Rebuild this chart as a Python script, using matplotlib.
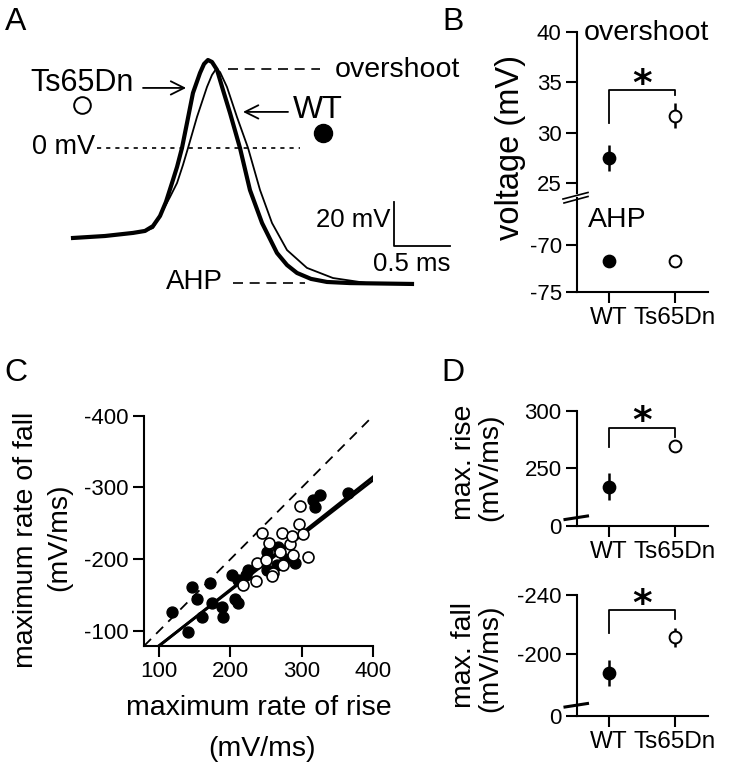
import matplotlib
matplotlib.use('Agg')
import matplotlib.pyplot as plt
from matplotlib.lines import Line2D
import numpy as np

plt.rcParams['font.family'] = ['Liberation Sans', 'DejaVu Sans']
plt.rcParams['axes.unicode_minus'] = False

W, H = 739, 764
fig = plt.figure(figsize=(W / 100, H / 100), dpi=100)

# ---------------- data ----------------
# Panel A: example action potentials (time in ms, voltage in mV)
ts_t = [0.000, 0.286, 0.536, 0.643, 0.714, 0.777, 0.830, 0.884, 0.929, 0.973, 1.018, 1.071, 1.134,
        1.170, 1.205, 1.241, 1.286, 1.339, 1.402, 1.491, 1.580, 1.688, 1.821, 1.911, 2.000, 2.125,
        2.268, 2.473, 3.027]
ts_v = [-40.9, -40.0, -38.6, -37.7, -35.5, -30.9, -24.5, -15.9, -8.6, 0.0, 11.4, 25.0, 34.1,
        38.2, 40.0, 39.1, 35.5, 26.4, 15.9, 0.0, -19.1, -34.1, -47.7, -53.2, -56.8, -59.5,
        -60.9, -61.4, -61.8]
wt_t = [0.000, 0.286, 0.536, 0.643, 0.714, 0.804, 0.866, 0.929, 0.982, 1.027, 1.107, 1.196, 1.241,
        1.277, 1.313, 1.375, 1.464, 1.563, 1.670, 1.777, 1.911, 2.089, 2.321, 2.625, 3.027]
wt_v = [-40.9, -40.0, -38.6, -37.7, -36.4, -28.2, -22.3, -15.9, -7.7, 0.0, 14.1, 27.7, 33.2,
        35.9, 34.5, 27.7, 14.1, 0.0, -19.1, -34.1, -46.4, -54.5, -59.1, -61.4, -61.8]

groups = ['WT', 'Ts65Dn']
overshoot_mean = [27.5, 31.7]
overshoot_sem = [1.3, 1.2]
ahp_mean = [-71.7, -71.7]
ahp_sem = [0.2, 0.2]
rise_mean = [234.0, 269.4]
rise_sem = [11.5, 4.0]
fall_mean = [-187.0, -211.3]
fall_sem = [9.0, 6.5]

# Panel C scatter: max rate of rise vs max rate of fall (mV/ms)
wt_rise = [118, 140, 146, 153, 171, 160, 174, 188, 190, 202, 210, 206, 210, 225, 222,
           251, 251, 267, 276, 290, 265, 316, 325, 318, 365]
wt_fall = [-127, -98, -161, -144, -167, -119, -139, -134, -120, -178, -171, -144, -139, -185, -178,
           -210, -185, -217, -200, -194, -192, -282, -289, -273, -292]
ts_rise = [244, 254, 272, 298, 296, 301, 309, 283, 269, 288, 274, 237, 260, 236, 218, 258, 250, 286]
ts_fall = [-237, -222, -236, -274, -249, -235, -203, -221, -210, -206, -192, -194, -181, -169, -164,
           -176, -199, -232]
fit_slope = [-0.787, -0.770]
fit_intercept = [-0.3, -2.5]

# ---------------- helpers ----------------
def px_axes(l, t, r, b):
    return fig.add_axes([l / W, 1 - b / H, (r - l) / W, (b - t) / H])


def ftext(x, y, s, **kw):
    fig.text(x / W, 1 - y / H, s, **kw)


def fline(xs, ys, **kw):
    fig.add_artist(Line2D([x / W for x in xs], [1 - y / H for y in ys], color='black', **kw))


def style(ax, left=True, bottom=True):
    for s in ['top', 'right']:
        ax.spines[s].set_visible(False)
    ax.spines['left'].set_visible(left)
    ax.spines['bottom'].set_visible(bottom)
    for s in ['left', 'bottom']:
        ax.spines[s].set_linewidth(1.5)
    ax.tick_params(direction='out', length=8, width=1.5, labelsize=16, pad=3)
    if not bottom:
        ax.set_xticks([])
    ax.patch.set_alpha(0)


def point(ax, x, y, e, filled, ms=8.5):
    ax.plot([x, x], [y - e, y + e], color='black', lw=1.8, zorder=2, solid_capstyle='butt')
    ax.plot([x], [y], 'o', ms=ms, mfc='black' if filled else 'white', mec='black',
            mew=1.4, zorder=3)


def star(ax, x, y):
    ax.annotate('*', xy=(x, y), xytext=(0, -9), textcoords='offset points', ha='center',
                va='bottom', fontsize=27, fontweight='bold', family='DejaVu Sans')


# ---------------- Panel A ----------------
axA = px_axes(0, 0, 470, 310)
axA.set_xlim(-0.652, 3.545)
axA.set_ylim(-73.64, 67.27)
axA.axis('off')
axA.plot(ts_t, ts_v, color='black', lw=3.0, solid_joinstyle='round')
axA.plot(wt_t, wt_v, color='black', lw=1.3, solid_joinstyle='round')
axA.plot([0.080], [19.5], 'o', ms=12, mfc='white', mec='black', mew=1.4)
axA.plot([2.232], [6.8], 'o', ms=13, mfc='black', mec='black')
axA.text(0.08, 29.5, 'Ts65Dn', fontsize=22, ha='center', va='center')
axA.annotate('', xy=(1.01, 27.3), xytext=(0.625, 27.3),
             arrowprops=dict(arrowstyle='->', lw=1.3, mutation_scale=24, shrinkA=0, shrinkB=0))
axA.text(2.19, 17.3, 'WT', fontsize=23, ha='center', va='center')
axA.annotate('', xy=(1.518, 16.4), xytext=(1.92, 16.4),
             arrowprops=dict(arrowstyle='->', lw=1.3, mutation_scale=24, shrinkA=0, shrinkB=0))
axA.plot([1.384, 2.205], [36.1, 36.1], color='black', lw=1.2, dashes=(6, 4))
axA.text(2.34, 35.5, 'overshoot', fontsize=20.5, ha='left', va='center')
axA.plot([0.214, 2.027], [0.2, 0.2], color='black', lw=1.2, dashes=(2.5, 3))
axA.text(0.196, 0.45, '0 mV', fontsize=19.5, ha='right', va='center')
axA.plot([1.43, 2.07], [-61.4, -61.4], color='black', lw=1.2, dashes=(6, 4))
axA.text(1.339, -60.9, 'AHP', fontsize=20, ha='right', va='center')
axA.plot([2.866, 2.866, 3.366], [-24.5, -44.5, -44.5], color='black', lw=1.3)
axA.text(2.83, -32.7, '20 mV', fontsize=18.5, ha='right', va='center')
axA.text(3.366, -52.7, '0.5 ms', fontsize=18.5, ha='right', va='center')

# ---------------- Panel B ----------------
xcat = [0, 1]
axBt = px_axes(577, 32, 708, 193)
axBt.set_xlim(-0.485, 1.5)
axBt.set_ylim(24.01, 40)
style(axBt, bottom=False)
axBt.set_yticks([25, 30, 35, 40])
point(axBt, xcat[0], overshoot_mean[0], overshoot_sem[0], True)
point(axBt, xcat[1], overshoot_mean[1], overshoot_sem[1], False)
axBt.plot([0, 0, 1, 1], [31.0, 34.2, 34.2, 33.7], color='black', lw=1.3)
star(axBt, 0.5, 34.2)
axBt.text(-0.38, 39.9, 'overshoot', fontsize=20.5, ha='left', va='center')

axBb = px_axes(577, 198, 708, 292)
axBb.set_xlim(-0.485, 1.5)
axBb.set_ylim(-75, -65.0)
style(axBb)
axBb.set_yticks([-75, -70])
axBb.set_xticks(xcat)
axBb.set_xticklabels(groups, fontsize=17.5)
point(axBb, xcat[0], ahp_mean[0], ahp_sem[0], True)
point(axBb, xcat[1], ahp_mean[1], ahp_sem[1], False)
axBb.text(-0.32, -67.3, 'AHP', fontsize=20.5, ha='left', va='center')
fline([563, 588], [199, 192.5], lw=1.2)
fline([564, 588], [203, 196.5], lw=1.2)
ftext(510, 147, 'voltage (mV)', fontsize=23.5, rotation=90, ha='center', va='center')

# ---------------- Panel C ----------------
axC = px_axes(144, 415.7, 373.3, 646)
axC.set_xlim(79, 400)
axC.set_ylim(-79, -400)
style(axC)
axC.set_xticks([100, 200, 300, 400])
axC.set_yticks([-100, -200, -300, -400])
xu = np.array([79, 400])
axC.plot(xu, -xu, color='black', lw=1.3, dashes=(5.5, 4))
for b, a in zip(fit_slope, fit_intercept):
    x0 = (-79 - a) / b
    xs = np.array([x0, 400])
    axC.plot(xs, a + b * xs, color='black', lw=2.0)
axC.scatter(wt_rise, wt_fall, s=62, c='black', edgecolors='black', linewidths=1.0, zorder=3)
axC.scatter(ts_rise, ts_fall, s=62, c='white', edgecolors='black', linewidths=1.2, zorder=4)
ftext(259, 708, 'maximum rate of rise', fontsize=20.5, ha='center', va='center')
ftext(262, 749, '(mV/ms)', fontsize=20.5, ha='center', va='center')
ftext(26, 540, 'maximum rate of fall', fontsize=20.5, rotation=90, ha='center', va='center')
ftext(59, 537, '(mV/ms)', fontsize=20.5, rotation=90, ha='center', va='center')

# ---------------- Panel D top ----------------
axD1 = px_axes(577, 410.7, 708, 525.7)
axD1.set_xlim(-0.485, 1.5)
axD1.set_ylim(200, 300)
style(axD1)
axD1.set_yticks([200, 250, 300])
axD1.set_yticklabels(['0', '250', '300'])
axD1.set_xticks(xcat)
axD1.set_xticklabels(groups, fontsize=17.5)
point(axD1, xcat[0], rise_mean[0], rise_sem[0], True)
point(axD1, xcat[1], rise_mean[1], rise_sem[1], False)
axD1.plot([0, 0, 1, 1], [268, 285.3, 285.3, 277.4], color='black', lw=1.3)
star(axD1, 0.5, 285.3)
fline([565, 587.5], [519.5, 516], lw=2.2)
ftext(464, 462, 'max. rise', fontsize=20.5, rotation=90, ha='center', va='center')
ftext(490, 467, '(mV/ms)', fontsize=20.5, rotation=90, ha='center', va='center')

# ---------------- Panel D bottom ----------------
axD2 = px_axes(577, 595, 708, 716)
axD2.set_xlim(-0.485, 1.5)
axD2.set_ylim(-158, -240)
style(axD2)
axD2.set_yticks([-158, -200, -240])
axD2.set_yticklabels(['0', '-200', '-240'])
axD2.set_xticks(xcat)
axD2.set_xticklabels(groups, fontsize=17.5)
point(axD2, xcat[0], fall_mean[0], fall_sem[0], True)
point(axD2, xcat[1], fall_mean[1], fall_sem[1], False)
axD2.plot([0, 0, 1, 1], [-214.4, -229.8, -229.8, -223.5], color='black', lw=1.3)
star(axD2, 0.5, -229.8)
fline([565, 587.5], [707, 703.5], lw=2.2)
ftext(464, 655, 'max. fall', fontsize=20.5, rotation=90, ha='center', va='center')
ftext(490, 658, '(mV/ms)', fontsize=20.5, rotation=90, ha='center', va='center')

# ---------------- panel letters ----------------
ftext(16, 22, 'A', fontsize=23, ha='center', va='center')
ftext(453, 22, 'B', fontsize=23, ha='center', va='center')
ftext(16, 373, 'C', fontsize=23, ha='center', va='center')
ftext(453, 373, 'D', fontsize=23, ha='center', va='center')

fig.savefig('out.png', dpi=100)
